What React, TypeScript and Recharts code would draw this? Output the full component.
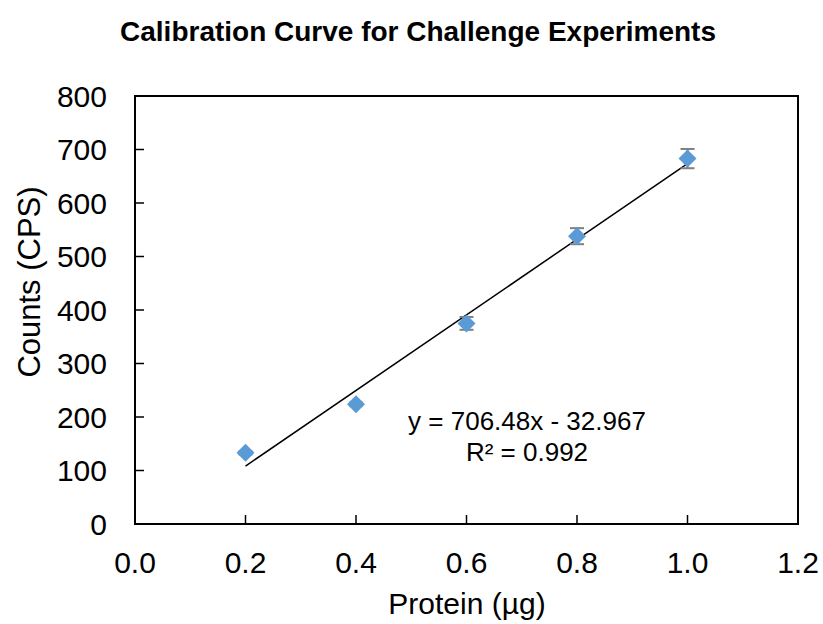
import React from "react";
import {
  ComposedChart,
  Scatter,
  Line,
  XAxis,
  YAxis,
  ErrorBar,
  ReferenceArea,
} from "recharts";

const protein = [0.2, 0.4, 0.6, 0.8, 1.0];
const counts = [133, 224, 375, 538, 683];
const countErr = [3, 3, 12, 15, 18];

const trendX = [0.2, 1.0];
const trendY = [108.3, 673.5];

const xTicks = [0, 0.2, 0.4, 0.6, 0.8, 1.0, 1.2];
const yTicks = [0, 100, 200, 300, 400, 500, 600, 700, 800];

const points = protein.map((x, i) => ({ x, y: counts[i], err: countErr[i] }));
const trend = trendX.map((x, i) => ({ x, y: trendY[i] }));

const font = "'Liberation Sans', Arial, sans-serif";

const Diamond = (props: any) => {
  const { cx, cy } = props;
  const r = 9;
  return (
    <path
      d={`M${cx},${cy - r}L${cx + r},${cy}L${cx},${cy + r}L${cx - r},${cy}Z`}
      fill="#5B9BD5"
    />
  );
};

const NoDot = () => <g />;

export default function App() {
  return (
    <div style={{ position: "absolute", left: 0, top: 0, background: "#fff" }}>
      <ComposedChart
        width={823}
        height={624}
        margin={{ top: 96, right: 25, bottom: 0, left: 0 }}
      >
        <XAxis
          type="number"
          dataKey="x"
          domain={[0, 1.2]}
          ticks={xTicks}
          tickFormatter={(v: number) => v.toFixed(1)}
          height={100}
          tickSize={-9}
          tickMargin={37}
          axisLine={{ stroke: "#000", strokeWidth: 2 }}
          tickLine={{ stroke: "#000", strokeWidth: 1.5 }}
          tick={{ fill: "#000", fontSize: 30, fontFamily: font }}
          allowDataOverflow
        />
        <YAxis
          type="number"
          dataKey="y"
          domain={[0, 800]}
          ticks={yTicks}
          width={135}
          tickSize={-9}
          tickMargin={37}
          axisLine={{ stroke: "#000", strokeWidth: 2 }}
          tickLine={{ stroke: "#000", strokeWidth: 1.5 }}
          tick={{ fill: "#000", fontSize: 30, fontFamily: font }}
          allowDataOverflow
        />
        <ReferenceArea
          x1={0}
          x2={1.2}
          y1={0}
          y2={800}
          fill="none"
          stroke="#000"
          strokeWidth={2}
          fillOpacity={0}
        />
        <Line
          data={trend}
          dataKey="y"
          stroke="#000"
          strokeWidth={1.5}
          dot={false}
          activeDot={false}
          isAnimationActive={false}
        />
        <Scatter
          data={points}
          dataKey="y"
          shape={NoDot}
          isAnimationActive={false}
        >
          <ErrorBar
            dataKey="err"
            direction="y"
            width={7}
            stroke="#7f7f7f"
            strokeWidth={2}
            isAnimationActive={false}
          />
        </Scatter>
        <Scatter
          data={points}
          dataKey="y"
          shape={Diamond}
          isAnimationActive={false}
        />
        <text
          x={418}
          y={41}
          textAnchor="middle"
          fontFamily={font}
          fontWeight="bold"
          fontSize={28}
          fill="#000"
        >
          Calibration Curve for Challenge Experiments
        </text>
        <text
          x={29}
          y={282}
          transform="rotate(-90 29 282)"
          textAnchor="middle"
          dominantBaseline="central"
          fontFamily={font}
          fontSize={31}
          fill="#000"
        >
          Counts (CPS)
        </text>
        <text
          x={467}
          y={614}
          textAnchor="middle"
          fontFamily={font}
          fontSize={30}
          fill="#000"
        >
          Protein (µg)
        </text>
        <text
          x={527}
          y={430}
          textAnchor="middle"
          fontFamily={font}
          fontSize={26}
          fill="#000"
        >
          y = 706.48x - 32.967
        </text>
        <text
          x={527}
          y={461}
          textAnchor="middle"
          fontFamily={font}
          fontSize={26}
          fill="#000"
        >
          R² = 0.992
        </text>
      </ComposedChart>
    </div>
  );
}
